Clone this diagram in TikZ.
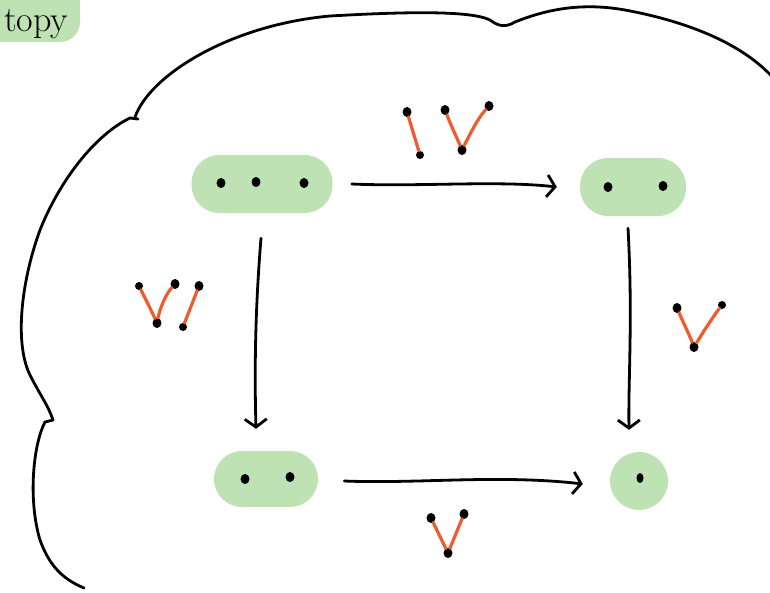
\documentclass[tikz,border=0pt]{standalone}
\usetikzlibrary{arrows.meta,shapes.geometric,bending}
\definecolor{blobgreen}{RGB}{190,226,180}
\definecolor{strand}{RGB}{238,92,45}
\tikzset{
  ink/.style={line width=2.8pt, black, line cap=round, line join=round},
  blob/.style={fill=blobgreen, draw=none, rounded corners=28pt, inner sep=0pt},
  pt/.style={ellipse, fill=black, draw=none, inner sep=0pt, minimum width=9pt, minimum height=10pt},
  smallpt/.style={ellipse, fill=black, draw=none, inner sep=0pt, minimum width=8pt, minimum height=8pt},
  link/.style={line width=3.2pt, strand, line cap=round},
  mapto/.style={ink, -{Straight Barb[bend, length=8pt, width=22pt, line width=2.8pt]}},
}
\begin{document}
\begin{tikzpicture}[x=1pt, y=-1pt]
\useasboundingbox (0,0) rectangle (770,592);
\clip (0,0) rectangle (770,592);

% title tag, partly off the page
\fill[blobgreen, rounded corners=20pt] (-40,-40) rectangle (80,42);
\node[anchor=base west, inner sep=0pt, font=\fontsize{36}{40}\selectfont] (title) at (4,31) {topy};

% enclosing outline
\draw[ink] (138,119) -- (130,118)
  .. controls (95,135) and (60,180) .. (40,230)
  .. controls (20,285) and (15,345) .. (30,375)
  .. controls (40,395) and (48,405) .. (53,420)
  -- (45,422)
  .. controls (33,445) and (28,500) .. (40,540)
  .. controls (50,568) and (65,580) .. (84,588);
\draw[ink] (135,117)
  .. controls (150,75) and (230,25) .. (330,16)
  .. controls (400,12) and (470,10) .. (490,20)
  .. controls (498,26) and (505,28) .. (515,22)
  .. controls (545,10) and (580,2) .. (625,10)
  .. controls (690,22) and (745,45) .. (775,80);

% spaces
\node[blob, minimum width=141pt, minimum height=58pt] (tl) at (262,184) {};
\node[blob, minimum width=106pt, minimum height=58pt] (tr) at (633,187) {};
\node[blob, minimum width=104pt, minimum height=56pt] (bl) at (266,479) {};
\node[circle, fill=blobgreen, draw=none, minimum size=58pt, inner sep=0pt] (br) at (639,481) {};

% points of the spaces
\node[pt] (tl1) at (221,183) {};
\node[pt] (tl2) at (256,182) {};
\node[pt] (tl3) at (304,183) {};
\node[pt] (tr1) at (608,187) {};
\node[pt] (tr2) at (663,186) {};
\node[pt] (bl1) at (245,479) {};
\node[pt] (bl2) at (290,477) {};
\node[ellipse, fill=black, inner sep=0pt, minimum width=7pt, minimum height=10pt] (br1) at (640,478) {};

% maps
\draw[mapto] ([xshift=19pt]tl.east) .. controls (420,187) and (500,180) .. ([xshift=-23pt]tr.west);
\draw[mapto] ([xshift=-1pt,yshift=-25pt]tl.south) .. controls (256,300) and (254,360) .. ([xshift=-10pt,yshift=22pt]bl.north);
\draw[mapto] ([xshift=-5pt,yshift=-12pt]tr.south) .. controls (633,320) and (628,380) .. ([xshift=-10pt,yshift=22pt]br.north);
\draw[mapto] ([xshift=26pt,yshift=-2pt]bl.east) .. controls (420,484) and (500,474) .. ([xshift=-27pt,yshift=-3pt]br.west);

% top map: pairs of points
\node[pt] (a1) at (407,112) {};
\node[smallpt] (a2) at (420,155) {};
\node[pt] (a3) at (445,110) {};
\node[pt] (a4) at (462,150) {};
\node[pt] (a5) at (489,106) {};
\draw[link] (a1) -- (a2);
\draw[link] (a3) .. controls (452,128) and (457,138) .. (a4);
\draw[link] (a5) .. controls (478,118) and (470,134) .. (a4);

% left map
\node[smallpt] (b1) at (139,286) {};
\node[pt] (b2) at (175,284) {};
\node[pt] (b3) at (199,286) {};
\node[pt] (b4) at (157,323) {};
\node[smallpt] (b5) at (183,327) {};
\draw[link] (b1) .. controls (146,300) and (152,312) .. (b4);
\draw[link] (b2) .. controls (166,294) and (160,308) .. (b4);
\draw[link] (b3) -- (b5);

% right map
\node[pt] (c1) at (677,308) {};
\node[smallpt] (c2) at (722,305) {};
\node[pt] (c3) at (694,347) {};
\draw[link] (c1) .. controls (683,322) and (689,334) .. (c3);
\draw[link] (c2) .. controls (712,318) and (702,334) .. (c3);

% bottom map
\node[pt] (d1) at (431,518) {};
\node[pt] (d2) at (464,514) {};
\node[pt] (d3) at (448,553) {};
\draw[link] (d1) -- (d3);
\draw[link] (d2) -- (d3);
\end{tikzpicture}
\end{document}
